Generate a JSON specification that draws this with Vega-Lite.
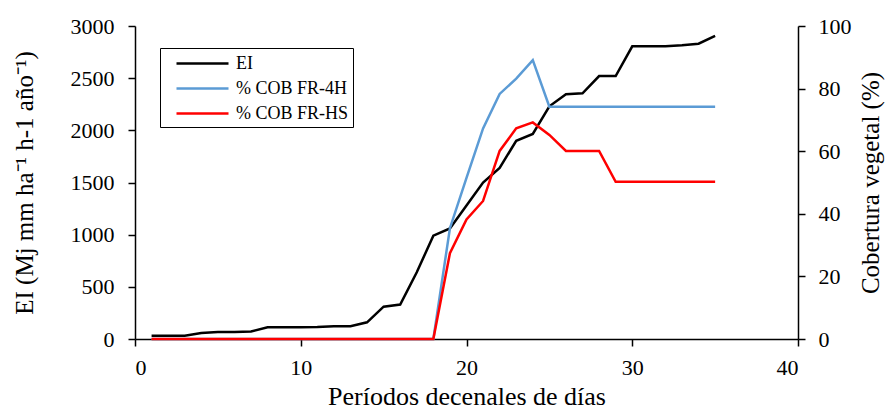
{
  "$schema": "https://vega.github.io/schema/vega-lite/v6.json",
  "width": 663,
  "height": 313,
  "autosize": {"type": "none"},
  "padding": {"left": 135, "top": 26, "right": 89, "bottom": 72},
  "background": "white",
  "config": {
    "view": {"stroke": null},
    "font": "Liberation Serif",
    "axis": {
      "grid": false,
      "domainColor": "black",
      "domainWidth": 1.5,
      "tickColor": "black",
      "tickWidth": 1.5,
      "tickSize": 7,
      "labelFont": "Liberation Serif",
      "labelFontSize": 22,
      "labelColor": "black",
      "titleFont": "Liberation Serif",
      "titleFontSize": 25,
      "titleFontWeight": "normal",
      "titleColor": "black"
    },
    "legend": {"labelFont": "Liberation Serif"}
  },
  "data": {
    "values": [
      {"x": 1, "serie": "EI", "v": 30}, {"x": 2, "serie": "EI", "v": 30}, {"x": 3, "serie": "EI", "v": 32},
      {"x": 4, "serie": "EI", "v": 58}, {"x": 5, "serie": "EI", "v": 68}, {"x": 6, "serie": "EI", "v": 68},
      {"x": 7, "serie": "EI", "v": 72}, {"x": 8, "serie": "EI", "v": 112}, {"x": 9, "serie": "EI", "v": 112},
      {"x": 10, "serie": "EI", "v": 112}, {"x": 11, "serie": "EI", "v": 114}, {"x": 12, "serie": "EI", "v": 122},
      {"x": 13, "serie": "EI", "v": 122}, {"x": 14, "serie": "EI", "v": 160}, {"x": 15, "serie": "EI", "v": 310},
      {"x": 16, "serie": "EI", "v": 330}, {"x": 17, "serie": "EI", "v": 640}, {"x": 18, "serie": "EI", "v": 990},
      {"x": 19, "serie": "EI", "v": 1060}, {"x": 20, "serie": "EI", "v": 1280}, {"x": 21, "serie": "EI", "v": 1500},
      {"x": 22, "serie": "EI", "v": 1640}, {"x": 23, "serie": "EI", "v": 1900}, {"x": 24, "serie": "EI", "v": 1965},
      {"x": 25, "serie": "EI", "v": 2230}, {"x": 26, "serie": "EI", "v": 2345}, {"x": 27, "serie": "EI", "v": 2355},
      {"x": 28, "serie": "EI", "v": 2520}, {"x": 29, "serie": "EI", "v": 2520}, {"x": 30, "serie": "EI", "v": 2805},
      {"x": 31, "serie": "EI", "v": 2805}, {"x": 32, "serie": "EI", "v": 2805}, {"x": 33, "serie": "EI", "v": 2815},
      {"x": 34, "serie": "EI", "v": 2830}, {"x": 35, "serie": "EI", "v": 2905},

      {"x": 1, "serie": "% COB FR-4H", "v": 0}, {"x": 18, "serie": "% COB FR-4H", "v": 0},
      {"x": 19, "serie": "% COB FR-4H", "v": 35.4}, {"x": 20, "serie": "% COB FR-4H", "v": 51.5},
      {"x": 21, "serie": "% COB FR-4H", "v": 67.3}, {"x": 22, "serie": "% COB FR-4H", "v": 78.3},
      {"x": 23, "serie": "% COB FR-4H", "v": 83.2}, {"x": 24, "serie": "% COB FR-4H", "v": 89.1},
      {"x": 25, "serie": "% COB FR-4H", "v": 74.2}, {"x": 26, "serie": "% COB FR-4H", "v": 74.2},
      {"x": 27, "serie": "% COB FR-4H", "v": 74.2}, {"x": 28, "serie": "% COB FR-4H", "v": 74.2},
      {"x": 29, "serie": "% COB FR-4H", "v": 74.2}, {"x": 30, "serie": "% COB FR-4H", "v": 74.2},
      {"x": 31, "serie": "% COB FR-4H", "v": 74.2}, {"x": 32, "serie": "% COB FR-4H", "v": 74.2},
      {"x": 33, "serie": "% COB FR-4H", "v": 74.2}, {"x": 34, "serie": "% COB FR-4H", "v": 74.2},
      {"x": 35, "serie": "% COB FR-4H", "v": 74.2},

      {"x": 1, "serie": "% COB FR-HS", "v": 0}, {"x": 18, "serie": "% COB FR-HS", "v": 0},
      {"x": 19, "serie": "% COB FR-HS", "v": 27.4}, {"x": 20, "serie": "% COB FR-HS", "v": 38.2},
      {"x": 21, "serie": "% COB FR-HS", "v": 44.1}, {"x": 22, "serie": "% COB FR-HS", "v": 60.1},
      {"x": 23, "serie": "% COB FR-HS", "v": 67.3}, {"x": 24, "serie": "% COB FR-HS", "v": 69.2},
      {"x": 25, "serie": "% COB FR-HS", "v": 65.2}, {"x": 26, "serie": "% COB FR-HS", "v": 60.1},
      {"x": 27, "serie": "% COB FR-HS", "v": 60.1}, {"x": 28, "serie": "% COB FR-HS", "v": 60.1},
      {"x": 29, "serie": "% COB FR-HS", "v": 50.2}, {"x": 30, "serie": "% COB FR-HS", "v": 50.2},
      {"x": 31, "serie": "% COB FR-HS", "v": 50.2}, {"x": 32, "serie": "% COB FR-HS", "v": 50.2},
      {"x": 33, "serie": "% COB FR-HS", "v": 50.2}, {"x": 34, "serie": "% COB FR-HS", "v": 50.2},
      {"x": 35, "serie": "% COB FR-HS", "v": 50.2}
    ]
  },
  "encoding": {
    "x": {
      "field": "x", "type": "quantitative",
      "scale": {"domain": [0, 40], "nice": false},
      "axis": {"values": [0, 10, 20, 30, 40], "format": "d", "title": "Períodos decenales de días", "titleFontSize": 26, "labelPadding": 11, "titlePadding": 5}
    },
    "color": {
      "field": "serie", "type": "nominal",
      "scale": {"domain": ["EI", "% COB FR-4H", "% COB FR-HS"], "range": ["#000000", "#5b9bd5", "#ff0000"]},
      "legend": {
        "title": null,
        "orient": "none",
        "legendX": 25,
        "legendY": 22,
        "symbolType": "M0.1,0L5.3,0",
        "symbolSize": 400,
        "symbolStrokeWidth": 2.5,
        "labelFont": "Liberation Serif",
        "labelFontSize": 18,
        "labelColor": "black",
        "labelOffset": 49,
        "rowPadding": 4,
        "strokeColor": "black",
        "padding": 4,
        "fillColor": "white"
      }
    }
  },
  "layer": [
    {
      "transform": [{"filter": "datum.serie === 'EI'"}],
      "mark": {"type": "line", "strokeWidth": 2.5},
      "encoding": {
        "y": {
          "field": "v", "type": "quantitative",
          "scale": {"domain": [0, 3000], "nice": false},
          "axis": {"orient": "left", "values": [0, 500, 1000, 1500, 2000, 2500, 3000], "format": "d", "title": "EI (Mj mm ha⁻¹ h-1 año⁻¹)", "labelPadding": 14, "titlePadding": 33}
        }
      }
    },
    {
      "transform": [{"filter": "datum.serie !== 'EI'"}],
      "mark": {"type": "line", "strokeWidth": 2.5},
      "encoding": {
        "y": {
          "field": "v", "type": "quantitative",
          "scale": {"domain": [0, 100], "nice": false},
          "axis": {"orient": "right", "values": [0, 20, 40, 60, 80, 100], "format": "d", "title": "Cobertura vegetal (%)", "titleAngle": 270, "labelPadding": 13, "titlePadding": 32}
        }
      }
    }
  ],
  "resolve": {"scale": {"y": "independent"}}
}
